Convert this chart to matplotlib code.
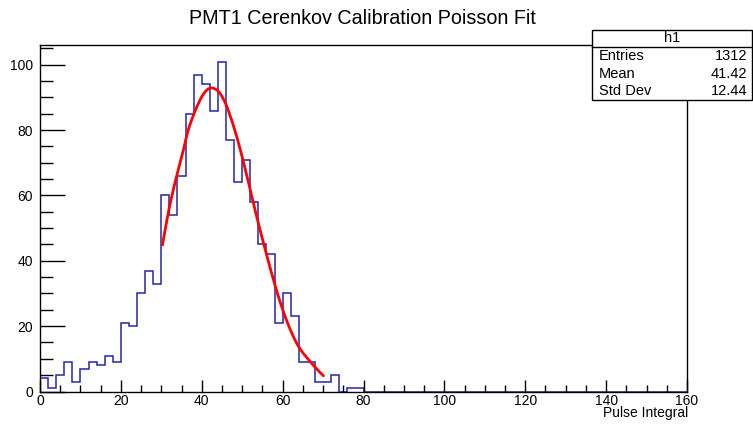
import matplotlib
matplotlib.use('Agg')
import matplotlib.pyplot as plt
from matplotlib.patches import Rectangle, PathPatch
from matplotlib.path import Path
from matplotlib.ticker import MultipleLocator
import numpy as np

plt.rcParams['font.family'] = ['Liberation Sans', 'DejaVu Sans']

# histogram h1: 80 bins of width 2 from 0 to 160
bin_edges = np.arange(0, 162, 2)
counts = [4, 1, 5, 9, 3, 7, 9, 8, 11, 9,
          21, 20, 30, 37, 33, 60, 54, 66, 85, 97,
          94, 86, 101, 77, 64, 71, 58, 45, 42, 21,
          30, 23, 9, 9, 3, 3, 5, 0, 1, 1] + [0] * 40

# Poisson fit curve
fit_x = [30.3, 31.4, 32.6, 34.2, 35.5, 36.7, 38.4, 40.0, 41.3, 42.5, 44.0, 45.4,
         46.6, 48.7, 50.7, 52.4, 54.0, 56.1, 58.2, 60.2, 62.3, 64.4, 67.7, 70.1]
fit_y = [44.9, 52.6, 59.8, 67.9, 74.1, 80.2, 86.0, 90.2, 92.3, 92.9, 92.0, 89.4,
         85.9, 77.8, 68.3, 59.6, 51.5, 41.6, 32.2, 24.4, 17.8, 12.9, 7.9, 4.8]

stats_names = ['Entries', 'Mean', 'Std Dev']
stats_values = ['1312', '41.42', '12.44']

W, H = 753, 424
fig = plt.figure(figsize=(W / 100, H / 100), dpi=100)
ax = fig.add_axes([40 / W, 1 - 391.5 / H, (687 - 40) / W, (391.5 - 45) / H])

ax.stairs(counts, bin_edges, color='#2626a6', linewidth=1.1, baseline=0)


def smooth_path(xs, ys):
    # Catmull-Rom through the read points, drawn as cubic beziers
    pts = np.column_stack([xs, ys])
    verts = [pts[0]]
    codes = [Path.MOVETO]
    for i in range(len(pts) - 1):
        p0 = pts[max(i - 1, 0)]
        p1 = pts[i]
        p2 = pts[i + 1]
        p3 = pts[min(i + 2, len(pts) - 1)]
        c1 = p1 + (p2 - p0) / 6
        c2 = p2 - (p3 - p1) / 6
        verts += [c1, c2, p2]
        codes += [Path.CURVE4] * 3
    return Path(verts, codes)


ax.add_patch(PathPatch(smooth_path(fit_x, fit_y), facecolor='none',
                       edgecolor='#ff0000', linewidth=2.0, capstyle='round', zorder=3))

ax.set_xlim(0, 160)
ax.set_ylim(0, 101 * 1.05)
ax.xaxis.set_major_locator(MultipleLocator(20))
ax.xaxis.set_minor_locator(MultipleLocator(5))
ax.yaxis.set_major_locator(MultipleLocator(20))
ax.yaxis.set_minor_locator(MultipleLocator(5))
ax.tick_params(axis='x', which='major', direction='in', length=9, width=1, labelsize=10, pad=2)
ax.tick_params(axis='x', which='minor', direction='in', length=5, width=1)
ax.tick_params(axis='y', which='major', direction='in', length=18, width=1, labelsize=10, pad=5)
ax.tick_params(axis='y', which='minor', direction='in', length=9, width=1)
for sp in ax.spines.values():
    sp.set_linewidth(1.0)

fig.text(688 / W, 1 - 413.5 / H, 'Pulse Integral', ha='right', va='center', fontsize=10)

fig.text(362 / W, 1 - 18 / H, 'PMT1 Cerenkov Calibration Poisson Fit',
         ha='center', va='center', fontsize=14.2)

# stats box
bx0, bx1, by0, by1 = 592, 752, 30, 100
fig.patches.append(Rectangle((bx0 / W, 1 - by1 / H), (bx1 - bx0) / W, (by1 - by0) / H,
                             transform=fig.transFigure, facecolor='white',
                             edgecolor='black', linewidth=1.0, zorder=5))
fig.lines.append(plt.Line2D([bx0 / W, bx1 / W], [1 - 47 / H, 1 - 47 / H],
                            transform=fig.transFigure, color='black', linewidth=1.0, zorder=6))
fig.text((bx0 + bx1) / 2 / W, 1 - 38.5 / H, 'h1', ha='center', va='center', fontsize=10.5, zorder=7)
row_y = [56, 73.5, 91]
for name, val, yy in zip(stats_names, stats_values, row_y):
    fig.text(599 / W, 1 - yy / H, name, ha='left', va='center', fontsize=10.5, zorder=7)
    fig.text(747 / W, 1 - yy / H, val, ha='right', va='center', fontsize=10.5, zorder=7)

fig.savefig('out.png', dpi=100, facecolor='white')
